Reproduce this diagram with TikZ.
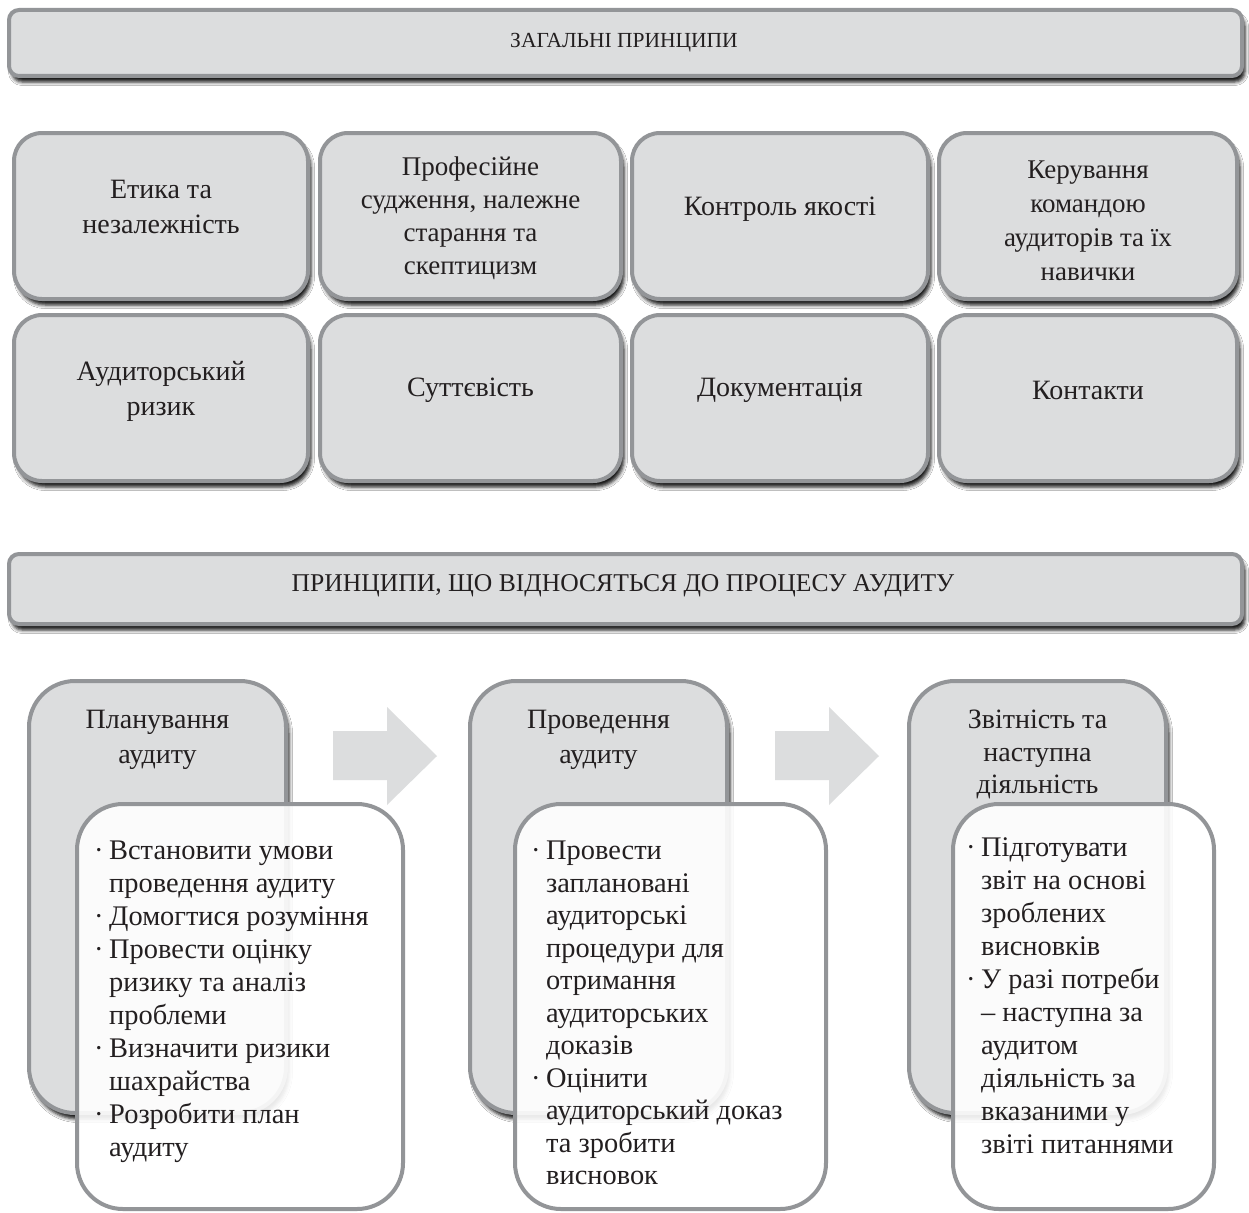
\documentclass[tikz,border=0pt]{standalone}
\usepackage{fontspec}
\setmainfont{Liberation Serif}
\usetikzlibrary{shadows.blur}
\definecolor{bord}{HTML}{939598}
\definecolor{boxfill}{HTML}{DCDDDE}
\definecolor{txt}{HTML}{231F20}
\newcommand{\bl}{\makebox[15pt][l]{·}}
\newcommand{\cl}{\hspace*{15pt}}
\begin{document}
\begin{tikzpicture}[x=1pt,y=-1pt,
  gshadow/.style={blur shadow={shadow xshift=3pt,shadow yshift=-6pt,shadow blur radius=3.5pt,shadow opacity=90}},
  banner/.style={draw=bord,line width=4pt,fill=boxfill,rounded corners=10pt,gshadow,inner sep=0pt,minimum width=1233pt},
  cell/.style={draw=bord,line width=4pt,fill=boxfill,rounded corners=28pt,gshadow,inner sep=0pt,minimum height=166pt},
  stage/.style={draw=bord,line width=4pt,fill=boxfill,rounded corners=46pt,gshadow,inner sep=0pt,minimum width=257pt,minimum height=432pt},
  detail/.style={draw=bord,line width=4pt,fill=white,fill opacity=0.9,rounded corners=46pt,inner sep=0pt,minimum height=405pt},
  flow/.style={fill=boxfill},
  btext/.style={text=txt,inner sep=0pt},
  gtext/.style={font=\fontsize{28}{35}\selectfont,align=center,text=txt,inner sep=0pt},
  ttext/.style={font=\fontsize{28}{35}\selectfont,align=center,text=txt,inner sep=0pt},
  ltext/.style={font=\fontsize{28.4}{33}\selectfont,align=left,text=txt,inner sep=0pt,anchor=north west}]
\path[use as bounding box,fill=white] (0,0) rectangle (1249,1212);

% banners
\node[banner,minimum height=66pt] (b1) at (625.5,43) {};
\node[btext,font=\fontsize{21.5}{26}\selectfont] (b1t) at (624,43) {ЗАГАЛЬНІ ПРИНЦИПИ};
\node[banner,minimum height=70pt] (b2) at (625.5,589) {};
\node[btext,font=\fontsize{25.6}{30}\selectfont] (b2t) at (623,586) {ПРИНЦИПИ, ЩО ВІДНОСЯТЬСЯ ДО ПРОЦЕСУ АУДИТУ};

% grid
\node[cell,minimum width=294pt] (c11) at (161,216) {};
\node[cell,minimum width=301pt] (c12) at (470.5,216) {};
\node[cell,minimum width=296pt] (c13) at (780,216) {};
\node[cell,minimum width=298pt] (c14) at (1088,216) {};
\node[cell,minimum width=294pt] (c21) at (161,398) {};
\node[cell,minimum width=301pt] (c22) at (470.5,398) {};
\node[cell,minimum width=296pt] (c23) at (780,398) {};
\node[cell,minimum width=298pt] (c24) at (1088,398) {};

\node[gtext] (t11) at (161,207) {Етика та\\незалежність};
\node[gtext,font=\fontsize{27}{33}\selectfont] (t12) at (470.5,218) {Професійне\\судження, належне\\старання та\\скептицизм};
\node[gtext] (t13) at (780,209) {Контроль якості};
\node[gtext,font=\fontsize{27}{34}\selectfont] (t14) at (1088,221) {Керування\\командою\\аудиторів та їх\\навички};
\node[gtext] (t21) at (161,391) {Аудиторський\\ризик};
\node[gtext] (t22) at (470.5,390) {Суттєвість};
\node[gtext] (t23) at (780,390) {Документація};
\node[gtext] (t24) at (1088,390) {Контакти};

% stages
\node[stage] (s1) at (157.5,897) {};
\node[stage] (s2) at (598.5,897) {};
\node[stage] (s3) at (1037.5,897) {};

\fill[flow] (333,731) -- (387,731) -- (387,707) -- (437,756) -- (387,805) -- (387,780) -- (333,780) -- cycle;
\fill[flow] (775,731) -- (829,731) -- (829,707) -- (879,756) -- (829,805) -- (829,780) -- (775,780) -- cycle;

\node[ttext] (s1t) at (157.5,739.5) {Планування\\аудиту};
\node[ttext] (s2t) at (598.5,739.5) {Проведення\\аудиту};
\node[ttext,font=\fontsize{28}{32.5}\selectfont] (s3t) at (1037.5,754.5) {Звітність та\\наступна\\діяльність};

% details
\node[detail,minimum width=326pt] (d1) at (240,1006.5) {};
\node[detail,minimum width=311pt] (d2) at (670.5,1006.5) {};
\node[detail,minimum width=261pt] (d3) at (1083.5,1006.5) {};

\node[ltext] (d1t) at (94,841) {\bl Встановити умови\\\cl проведення аудиту\\\bl Домогтися розуміння\\\bl Провести оцінку\\\cl ризику та аналіз\\\cl проблеми\\\bl Визначити ризики\\\cl шахрайства\\\bl Розробити план\\\cl аудиту};
\node[ltext,font=\fontsize{28.4}{32.5}\selectfont] (d2t) at (531,841) {\bl Провести\\\cl заплановані\\\cl аудиторські\\\cl процедури для\\\cl отримання\\\cl аудиторських\\\cl доказів\\\bl Оцінити\\\cl аудиторський доказ\\\cl та зробити\\\cl висновок};
\node[ltext] (d3t) at (966,837) {\bl Підготувати\\\cl звіт на основі\\\cl зроблених\\\cl висновків\\\bl У разі потреби\\\cl – наступна за\\\cl аудитом\\\cl діяльність за\\\cl вказаними у\\\cl звіті питаннями};
\end{tikzpicture}
\end{document}
